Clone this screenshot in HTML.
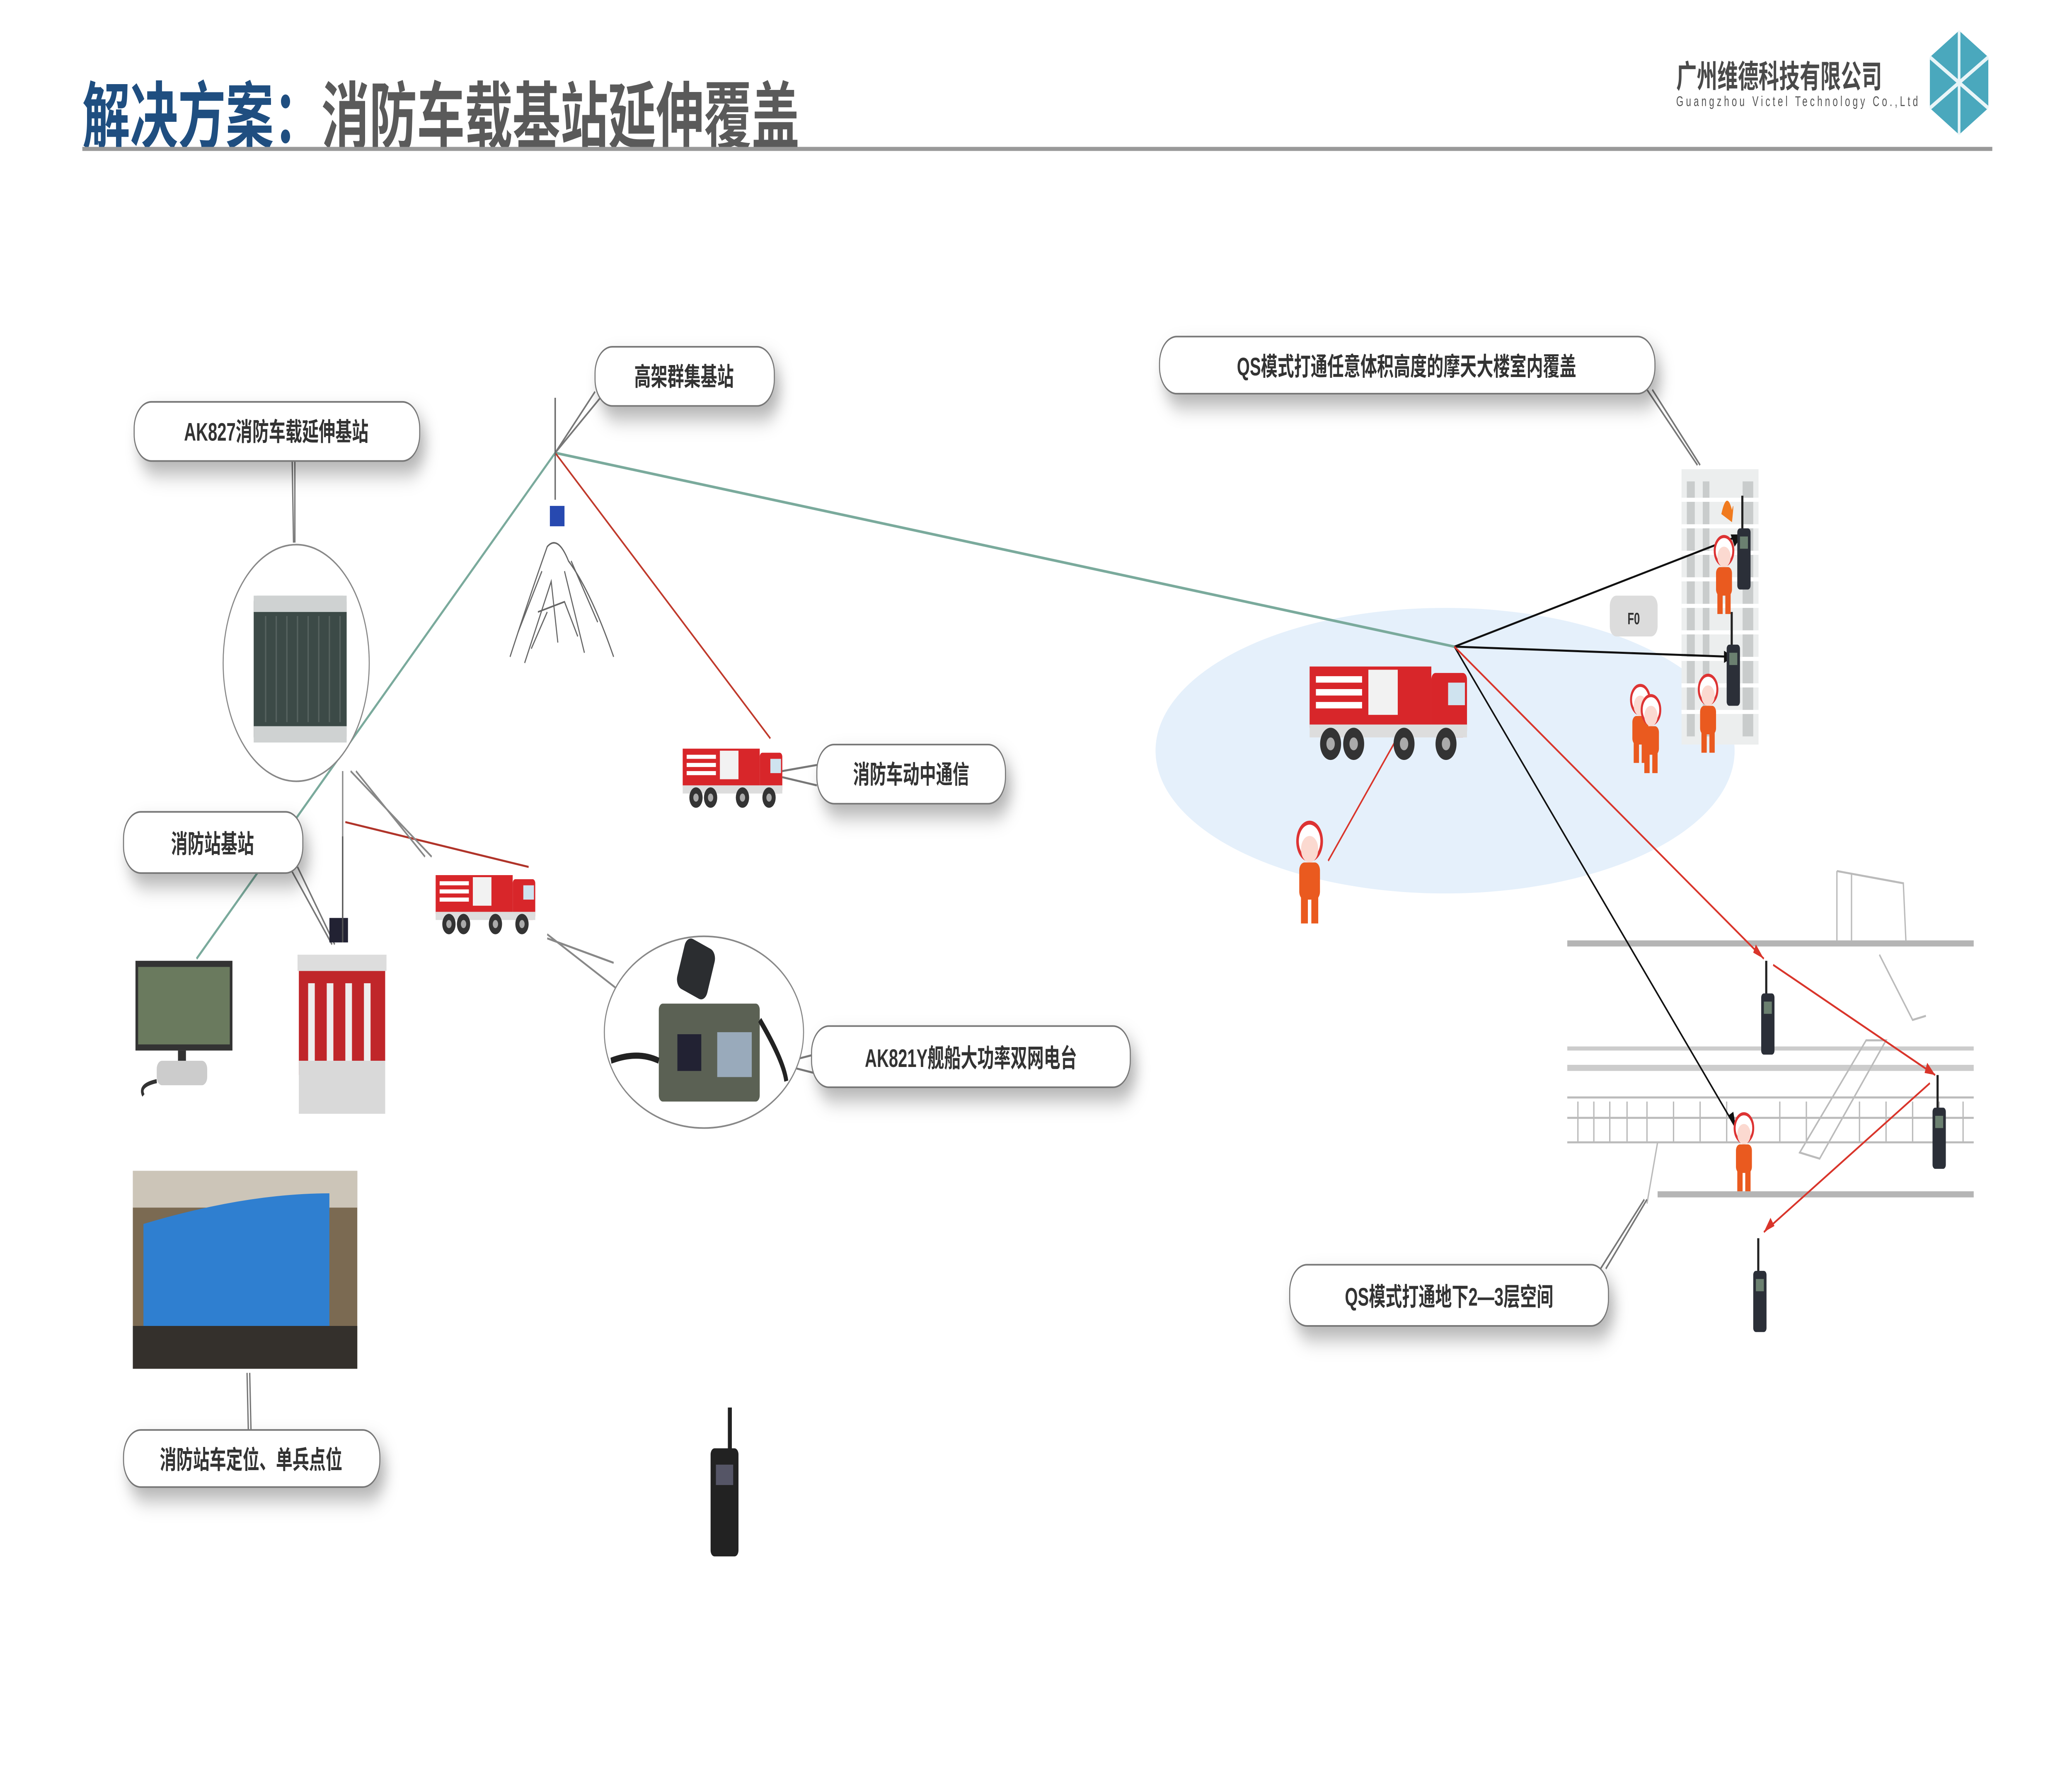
<!DOCTYPE html>
<html><head><meta charset="utf-8"><style>
html,body{margin:0;padding:0;background:#fff;width:100vw;height:100vh;overflow:hidden}
svg{display:block;width:100vw;height:100vh}
text{font-family:"Liberation Sans","Noto Sans CJK SC",sans-serif}
</style></head><body>
<svg viewBox="0 0 1560 877.5" preserveAspectRatio="none" xmlns="http://www.w3.org/2000/svg">
<defs>
<filter id="sh" x="-20%" y="-40%" width="150%" height="220%"><feDropShadow dx="4" dy="6" stdDeviation="5" flood-color="#000" flood-opacity="0.3"/></filter>
<g id="truck">
<rect x="0" y="3" width="58" height="19" fill="#d8262a"/>
<rect x="3" y="6" width="22" height="2" fill="#fff"/><rect x="3" y="10" width="22" height="2" fill="#fff"/><rect x="3" y="14" width="22" height="2" fill="#fff"/>
<rect x="28" y="4" width="14" height="14" fill="#f2f2f2"/>
<rect x="58" y="5" width="17" height="20" rx="2" fill="#d8262a"/>
<rect x="66" y="8" width="8" height="7" fill="#cfe3ef"/>
<rect x="0" y="21" width="75" height="4" fill="#ddd"/>
<circle cx="10" cy="27" r="5" fill="#333"/><circle cx="21" cy="27" r="5" fill="#333"/><circle cx="45" cy="27" r="5" fill="#333"/><circle cx="65" cy="27" r="5" fill="#333"/>
<circle cx="10" cy="27" r="2" fill="#aaa"/><circle cx="21" cy="27" r="2" fill="#aaa"/><circle cx="45" cy="27" r="2" fill="#aaa"/><circle cx="65" cy="27" r="2" fill="#aaa"/>
</g>
<g id="radio">
<rect x="3" y="0" width="1.6" height="18" fill="#222"/>
<rect x="0" y="16" width="10" height="30" rx="2" fill="#2b2f38"/>
<rect x="2" y="20" width="6" height="6" fill="#6b8070"/>
</g>
<g id="ff">
<circle cx="10" cy="8" r="7" fill="#fff" stroke="#d33" stroke-width="1.5"/>
<circle cx="10" cy="11" r="5" fill="#fbd9d0"/>
<rect x="4" y="16" width="12" height="14" rx="3" fill="#ea5a1f"/>
<rect x="5" y="29" width="4" height="10" fill="#ea5a1f"/><rect x="11" y="29" width="4" height="10" fill="#ea5a1f"/>
</g>
</defs>

<!-- title -->
<text x="62" y="70" font-size="36" font-weight="bold" fill="#1f4e80" style="font-family:'Noto Sans CJK SC',sans-serif">解决方案：<tspan fill="#5a5a5a">消防车载基站延伸覆盖</tspan></text>
<rect x="62" y="72" width="1438" height="2" fill="#999"/>
<text x="1262" y="43" font-size="15.5" font-weight="bold" fill="#4a4a4a" style="font-family:'Noto Sans CJK SC',sans-serif">广州维德科技有限公司</text>
<text x="1262" y="52" font-size="7" fill="#555" textLength="182">Guangzhou Victel Technology Co.,Ltd</text>
<polygon points="1475,15 1497,28 1497,53 1475,66 1453,53 1453,28" fill="#4aa8bd"/>
<path d="M1475,15 L1475,66 M1453,28 L1497,53 M1497,28 L1453,53" stroke="#e9f5f8" stroke-width="2"/>

<!-- coverage ellipse -->
<ellipse cx="1088" cy="368" rx="218" ry="70" fill="#e5f0fb"/>

<!-- subway structure -->
<g stroke="#bbb" fill="none" stroke-width="1">
<path d="M1383,427 L1383,462 M1383,427 L1433,433 L1435,462 M1394,428 L1394,462"/>
<rect x="1180" y="461" width="306" height="3" fill="#b5b5b5" stroke="none"/>
<rect x="1180" y="513" width="306" height="2" fill="#ccc" stroke="none"/>
<rect x="1180" y="522" width="306" height="3" fill="#ccc" stroke="none"/>
<rect x="1248" y="584" width="238" height="3" fill="#b5b5b5" stroke="none"/>
<path d="M1180,538 L1486,538 M1180,548 L1486,548 M1180,560 L1486,560"/>
<path d="M1188,540 v20 M1200,540 v20 M1212,540 v20 M1225,540 v20 M1240,540 v20 M1260,540 v20 M1280,540 v20 M1300,540 v20 M1340,540 v20 M1360,540 v20 M1400,540 v20 M1420,540 v20 M1440,540 v20 M1460,540 v20 M1478,540 v20"/>
<path d="M1355,565 L1405,510 L1420,510 L1370,568 Z M1415,468 L1440,500 L1450,498"/>
<path d="M1248,560 L1240,590"/>
</g>

<!-- skyscraper -->
<rect x="1266" y="230" width="58" height="135" fill="#eceeee"/>
<g fill="#c9cccc"><rect x="1270" y="236" width="6" height="125"/><rect x="1282" y="236" width="5" height="125"/><rect x="1312" y="236" width="8" height="125"/></g>
<g stroke="#fff" stroke-width="2"><path d="M1266,245 h58 M1266,258 h58 M1266,271 h58 M1266,284 h58 M1266,297 h58 M1266,310 h58 M1266,323 h58 M1266,336 h58 M1266,349 h58"/></g>
<path d="M1296,252 q4,-12 8,-2 q2,-6 0,6 z" fill="#f07a1e"/>
<rect x="1212" y="292" width="36" height="20" rx="5" fill="#dcdcdc"/>
<text x="1230" y="306" font-size="8" font-weight="bold" text-anchor="middle" fill="#333">F0</text>

<!-- connectors -->
<g fill="none" stroke-width="1">
<path d="M418,222 L1095,317" stroke="#7aaa9c" stroke-width="1.3"/>
<path d="M418,222 L148,470" stroke="#7aaa9c" stroke-width="1.3"/>
<path d="M418,222 L580,362" stroke="#c0392b"/>
<path d="M260,403 L398,425" stroke="#b0342a"/>
<path d="M1095,317 L1312,262" stroke="#111"/>
<path d="M1095,317 L1305,322" stroke="#111"/>
<path d="M1095,317 L1307,553" stroke="#111"/>
<path d="M1095,317 L1328,470" stroke="#d9352b"/>
<path d="M1335,473 L1457,527" stroke="#d9352b"/>
<path d="M1453,531 L1328,604" stroke="#d9352b"/>
<path d="M1050,364 L1000,422" stroke="#d9352b"/>
<path d="M418,222 L452,195 M418,222 L448,192 M418,222 L418,195" stroke="#777"/>
<path d="M220,226 L221,266 M222,226 L222,266" stroke="#777"/>
<path d="M1240,191 L1278,228 M1244,191 L1280,228" stroke="#777"/>
<path d="M589,378 L615,375 M589,381 L615,385" stroke="#777"/>
<path d="M224,425 L252,463 M218,425 L250,463" stroke="#777"/>
<path d="M258,378 L258,460 M264,378 L325,420 M268,378 L320,420" stroke="#888"/>
<path d="M412,458 L465,485 M412,460 L462,472" stroke="#888"/>
<path d="M595,520 L613,517 M595,523 L613,526" stroke="#777"/>
<path d="M1209,622 L1240,588 M1205,622 L1238,588" stroke="#777"/>
<path d="M186,673 L187,702 M188,673 L189,702" stroke="#777"/>
</g>
<g fill="#111"><polygon points="1312,262 1303,262 1306,268"/><polygon points="1305,322 1298,319 1298,325"/><polygon points="1307,553 1301,547 1305,545"/></g>
<g fill="#d9352b"><polygon points="1328,470 1320,467 1322,463"/><polygon points="1457,527 1449,526 1451,521"/><polygon points="1328,604 1333,597 1336,601"/></g>

<!-- antenna mast + mountain -->
<path d="M418,195 L418,245" stroke="#666" stroke-width="1"/>
<rect x="414" y="248" width="11" height="10" fill="#2749b0"/>
<g stroke="#666" fill="none" stroke-width="0.8">
<path d="M384,322 Q400,290 412,268 Q420,262 428,275 Q445,290 462,322"/>
<path d="M390,310 L408,280 M395,325 L415,285 L420,315 M425,280 L440,320 M430,275 L450,305 M405,300 L425,295 L435,312 M400,318 L412,300"/>
</g>

<!-- trucks -->
<use href="#truck" x="514" y="364"/>
<use href="#truck" x="328" y="426"/>
<use href="#truck" transform="translate(986,322) scale(1.58)"/>

<!-- devices -->
<ellipse cx="223" cy="325" rx="55" ry="58" fill="#fff" stroke="#888" stroke-width="0.8"/>
<rect x="191" y="292" width="70" height="72" rx="3" fill="#3c4a47"/>
<rect x="191" y="292" width="70" height="8" fill="#cfd2d2"/>
<rect x="191" y="356" width="70" height="8" fill="#cfd2d2"/>
<g stroke="#56625f" stroke-width="1"><path d="M200,302 v52 M208,302 v52 M216,302 v52 M224,302 v52 M232,302 v52 M240,302 v52 M248,302 v52 M256,302 v52"/></g>

<ellipse cx="530" cy="506" rx="75" ry="47" fill="#fff" stroke="#888" stroke-width="0.8"/>
<rect x="496" y="492" width="76" height="48" rx="3" fill="#5b6154"/>
<rect x="510" y="507" width="18" height="18" fill="#223"/>
<rect x="540" y="506" width="26" height="22" fill="#9ab"/>
<rect x="512" y="462" width="24" height="26" rx="5" fill="#2b2d30" transform="rotate(20 524 475)"/>
<path d="M460,520 Q480,515 496,520 M572,500 Q590,520 592,530" stroke="#222" stroke-width="3" fill="none"/>

<!-- fire station -->
<rect x="225" y="475" width="65" height="52" fill="#c0262a"/>
<g fill="#eee"><rect x="232" y="482" width="5" height="40"/><rect x="246" y="482" width="5" height="40"/><rect x="260" y="482" width="5" height="40"/><rect x="274" y="482" width="5" height="40"/></g>
<rect x="225" y="520" width="65" height="26" fill="#d9d9d9"/>
<rect x="224" y="468" width="67" height="8" fill="#ddd"/>
<rect x="248" y="450" width="14" height="12" fill="#223"/>
<path d="M258,410 L258,462" stroke="#555"/>

<!-- monitor -->
<rect x="102" y="471" width="73" height="44" fill="#333"/>
<rect x="104" y="474" width="69" height="38" fill="#6a7a5e"/>
<rect x="134" y="515" width="6" height="8" fill="#333"/>
<rect x="118" y="520" width="38" height="12" rx="4" fill="#ccc"/>
<path d="M118,530 Q104,532 108,537" stroke="#333" stroke-width="2" fill="none"/>

<!-- control room -->
<rect x="100" y="574" width="169" height="97" fill="#7b6a52"/>
<rect x="100" y="574" width="169" height="18" fill="#ccc5b8"/>
<path d="M108,600 Q185,585 248,585 L248,650 Q180,650 108,660 Z" fill="#2f7fd0"/>
<rect x="100" y="650" width="169" height="21" fill="#34302c"/>

<!-- handheld radio -->
<rect x="548" y="690" width="3" height="24" fill="#222"/>
<rect x="535" y="710" width="21" height="53" rx="3" fill="#222"/>
<rect x="539" y="718" width="13" height="10" fill="#556"/>

<!-- radios -->
<use href="#radio" x="1308" y="243"/>
<use href="#radio" x="1300" y="300"/>
<use href="#radio" x="1326" y="471"/>
<use href="#radio" x="1455" y="527"/>
<use href="#radio" x="1320" y="607"/>

<!-- firefighters -->
<use href="#ff" transform="translate(973,402) scale(1.3)"/>
<use href="#ff" x="1225" y="335"/>
<use href="#ff" x="1233" y="340"/>
<use href="#ff" x="1288" y="262"/>
<use href="#ff" x="1276" y="330"/>
<use href="#ff" x="1303" y="545"/>

<!-- callouts -->
<g font-size="12.5" font-weight="bold" fill="#333" text-anchor="middle" style="font-family:'Noto Sans CJK SC',sans-serif">
<g filter="url(#sh)">
<rect x="448" y="170" width="135" height="29" rx="13" fill="#fff" stroke="#777" stroke-width="0.8"/>
<rect x="101" y="197" width="215" height="29" rx="13" fill="#fff" stroke="#777" stroke-width="0.8"/>
<rect x="873" y="165" width="373" height="28" rx="13" fill="#fff" stroke="#777" stroke-width="0.8"/>
<rect x="615" y="365" width="142" height="29" rx="13" fill="#fff" stroke="#777" stroke-width="0.8"/>
<rect x="93" y="398" width="135" height="30" rx="13" fill="#fff" stroke="#777" stroke-width="0.8"/>
<rect x="611" y="503" width="240" height="30" rx="13" fill="#fff" stroke="#777" stroke-width="0.8"/>
<rect x="971" y="620" width="240" height="30" rx="13" fill="#fff" stroke="#777" stroke-width="0.8"/>
<rect x="93" y="701" width="193" height="28" rx="13" fill="#fff" stroke="#777" stroke-width="0.8"/>
</g>
<text x="515" y="189">高架群集基站</text>
<text x="208" y="216">AK827消防车载延伸基站</text>
<text x="1059" y="184">QS模式打通任意体积高度的摩天大楼室内覆盖</text>
<text x="686" y="384">消防车动中通信</text>
<text x="160" y="418">消防站基站</text>
<text x="731" y="523">AK821Y舰船大功率双网电台</text>
<text x="1091" y="640">QS模式打通地下2—3层空间</text>
<text x="189" y="720">消防站车定位、单兵点位</text>
</g>
</svg>
</body></html>
